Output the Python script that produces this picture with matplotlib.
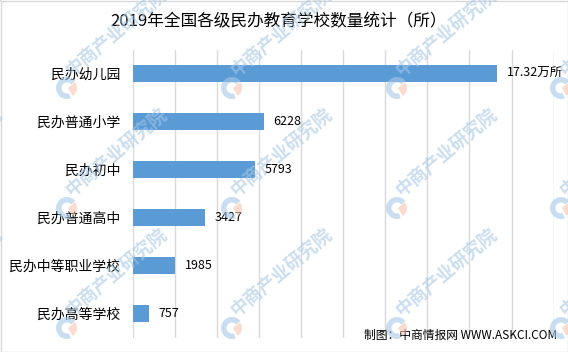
import matplotlib
matplotlib.use("Agg")
import matplotlib.pyplot as plt
from matplotlib.patches import Wedge, Rectangle

plt.rcParams['font.family'] = ['Noto Sans CJK SC', 'DejaVu Sans']

# data
title = '2019年全国各级民办教育学校数量统计（所）'
categories = ['民办幼儿园', '民办普通小学', '民办初中', '民办普通高中',
              '民办中等职业学校', '民办高等学校']
bar_values = [17320, 6228, 5793, 3427, 1985, 757]
value_labels = ['17.32万所', '6228', '5793', '3427', '1985', '757']
footer = '制图：中商情报网 WWW.ASKCI.COM'

W, H = 568, 352
fig = plt.figure(figsize=(W / 100, H / 100), dpi=100)

ax = fig.add_axes([133 / W, 1 - 337.5 / H, (553.6 - 133) / W, (337.5 - 49.5) / H])
pos = list(range(len(categories)))
bars = ax.barh(pos, bar_values, height=0.36, color='#5b9bd5', zorder=2)
ax.set_yticks(pos, labels=categories)
ax.set_ylim(len(categories) - 0.5, -0.5)
ax.set_xlim(0, 20000)
ax.set_xticks(range(0, 20001, 2000))
ax.tick_params(axis='x', labelbottom=False, length=0)
ax.tick_params(axis='y', length=0, pad=9, labelsize=10)
ax.grid(axis='x', color='#d9d9d9', lw=1)
ax.set_axisbelow(True)
for s in ax.spines.values():
    s.set_visible(False)
ax.bar_label(bars, labels=value_labels, padding=7, fontsize=9)

fig.text(279 / W, 1 - 22 / H, title, ha='center', va='center', fontsize=12)
fig.text(557 / W, 1 - 335 / H, footer, ha='right', va='center', fontsize=8.5)

# watermark overlay in pixel coords
wm = fig.add_axes([0, 0, 1, 1], zorder=10)
wm.set_xlim(0, W)
wm.set_ylim(H, 0)
wm.axis('off')
for x0 in [-98, 67, 232, 397, 561]:
    for y0 in [88, 208, 328]:
        wm.add_patch(Wedge((x0, y0), 11, 70, 320, width=5.5,
                           color='#a6c8e7', alpha=0.6, lw=0))
        wm.add_patch(Wedge((x0 + 1, y0), 9, -40, 60,
                           color='#f7c4ae', alpha=0.6, lw=0))
        wm.text(x0 + 8, y0 - 8, '中商产业研究院', rotation=40,
                rotation_mode='anchor', ha='left', va='bottom',
                fontsize=13, fontweight='bold', color='#a6c8e7', alpha=0.6)

fig.patches.append(Rectangle((0.5 / W, 0.5 / H), 1 - 1 / W, 1 - 1 / H,
                             transform=fig.transFigure, fill=False,
                             edgecolor='#d9d9d9', lw=1))

fig.savefig('out.png', dpi=100)
